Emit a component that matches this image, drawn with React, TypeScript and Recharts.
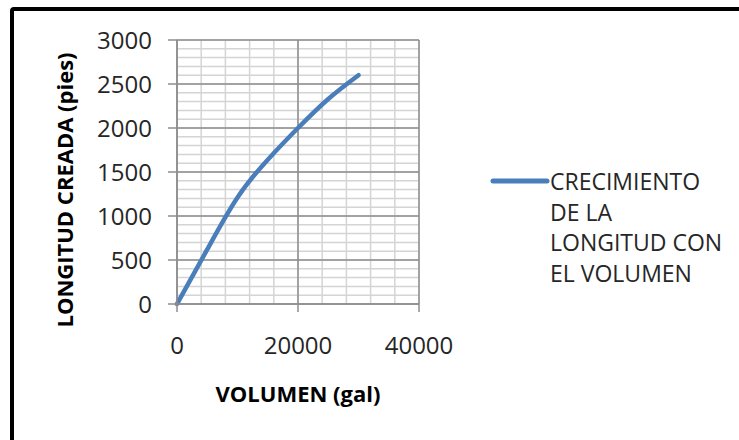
import React from "react";
import {
  LineChart,
  Line,
  XAxis,
  YAxis,
  CartesianGrid,
  Legend,
  Label,
} from "recharts";

// Volume (gal) vs. created length (ft)
const VOLUME = [0, 5000, 10000, 15000, 20000, 25000, 30000];
const LENGTH = [0, 620, 1210, 1640, 2000, 2330, 2600];

const SERIES_LINES = ["CRECIMIENTO", "DE LA", "LONGITUD CON", "EL VOLUMEN"];
const SERIES_NAME = SERIES_LINES.join(" ");

const X_TICKS = [0, 20000, 40000];
const Y_TICKS = [0, 500, 1000, 1500, 2000, 2500, 3000];

const X_TITLE = "VOLUMEN (gal)";
const Y_TITLE = "LONGITUD CREADA (pies)";

const FONT = "'Open Sans', sans-serif";
const LINE_COLOR = "#4a7ebb";
const MAJOR_GRID = "#8e8e8e";
const MINOR_GRID = "#d4d4d4";

// minor grid every 1/5 of a major step
const xMinor: number[] = [];
for (let v = 0; v <= 40000; v += 4000) xMinor.push(v);
const yMinor: number[] = [];
for (let v = 0; v <= 3000; v += 100) yMinor.push(v);

const data = VOLUME.map((v, i) => ({ volumen: v, longitud: LENGTH[i] }));

const LegendContent = () => (
  <div style={{ display: "flex", alignItems: "flex-start", fontFamily: FONT }}>
    <svg width={60} height={30} style={{ flex: "none" }}>
      <line x1={3} y1={15} x2={57} y2={15} stroke={LINE_COLOR} strokeWidth={5} strokeLinecap="round" />
    </svg>
    <div style={{ fontSize: 23, lineHeight: "30.5px", color: "#262626" }}>
      {SERIES_LINES.map((l) => (
        <div key={l} style={{ whiteSpace: "nowrap" }}>{l}</div>
      ))}
    </div>
  </div>
);

export default function App() {
  return (
    <div style={{ position: "absolute", left: 0, top: 0, width: 739, height: 440, background: "#fff", overflow: "hidden" }}>
      <div
        style={{
          position: "absolute",
          left: 10,
          top: 7,
          width: 780,
          height: 480,
          border: "4px solid #000",
          borderRadius: 4,
          boxSizing: "border-box",
        }}
      />
      <div style={{ position: "absolute", left: 0, top: 0 }}>
        <LineChart
          width={739}
          height={440}
          data={data}
          margin={{ top: 40, right: 320, bottom: 76, left: 0 }}
        >
          <CartesianGrid
            stroke={MINOR_GRID}
            strokeWidth={1.5}
            horizontalValues={yMinor}
            verticalValues={xMinor}
            fill="none"
          />
          <CartesianGrid
            stroke={MAJOR_GRID}
            strokeWidth={1.5}
            horizontalValues={Y_TICKS}
            verticalValues={X_TICKS}
            fill="none"
          />
          <XAxis
            dataKey="volumen"
            type="number"
            domain={[0, 40000]}
            ticks={X_TICKS}
            height={60}
            tickSize={8}
            tickMargin={25}
            axisLine={{ stroke: MAJOR_GRID, strokeWidth: 1.5 }}
            tickLine={{ stroke: MAJOR_GRID, strokeWidth: 1.5 }}
            tick={{ fontFamily: FONT, fontSize: 24, fill: "#262626" }}
            interval={0}
          >
            <Label
              content={({ viewBox }: any) => (
                <text
                  x={viewBox.x + viewBox.width / 2}
                  y={viewBox.y + 98}
                  textAnchor="middle"
                  fontFamily={FONT}
                  fontWeight={700}
                  fontSize={22}
                  fill="#000"
                >
                  {X_TITLE}
                </text>
              )}
            />
          </XAxis>
          <YAxis
            type="number"
            domain={[0, 3000]}
            ticks={Y_TICKS}
            width={177}
            tickSize={9}
            tickMargin={16}
            axisLine={{ stroke: MAJOR_GRID, strokeWidth: 1.5 }}
            tickLine={{ stroke: MAJOR_GRID, strokeWidth: 1.5 }}
            tick={{ fontFamily: FONT, fontSize: 24, fill: "#262626" }}
            interval={0}
          >
            <Label
              content={({ viewBox }: any) => {
                const cx = viewBox.x + 73;
                const cy = viewBox.y + viewBox.height / 2 + 18;
                return (
                  <text
                    x={cx}
                    y={cy}
                    transform={`rotate(-90 ${cx} ${cy})`}
                    textAnchor="middle"
                    fontFamily={FONT}
                    fontWeight={700}
                    fontSize={22}
                    fill="#000"
                  >
                    {Y_TITLE}
                  </text>
                );
              }}
            />
          </YAxis>
          <Legend
            layout="vertical"
            align="center"
            verticalAlign="middle"
            wrapperStyle={{ left: 490, top: 166, width: 240 }}
            content={<LegendContent />}
          />
          <Line
            name={SERIES_NAME}
            dataKey="longitud"
            type="natural"
            stroke={LINE_COLOR}
            strokeWidth={4.5}
            strokeLinecap="round"
            dot={false}
            isAnimationActive={false}
          />
        </LineChart>
      </div>
    </div>
  );
}
